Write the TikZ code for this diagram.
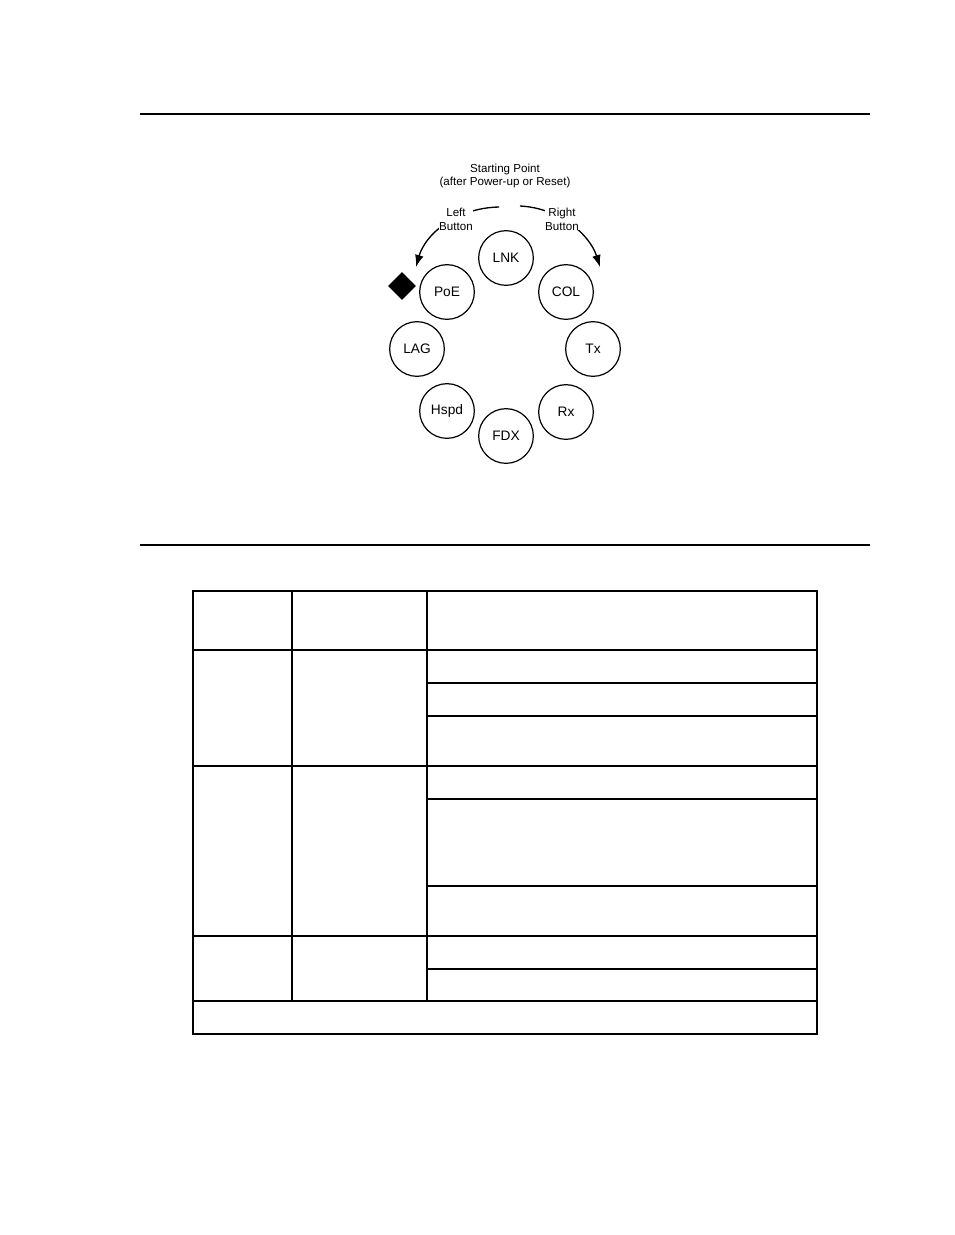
\documentclass[tikz,border=0pt]{standalone}
\usepackage{fontspec}
\setmainfont{Liberation Sans}
\usetikzlibrary{shapes.geometric,arrows.meta}
\begin{document}
\begin{tikzpicture}[x=0.75pt,y=-0.75pt,
  led/.style={circle,draw,line width=0.9pt,minimum size=41pt,inner sep=0pt,font=\fontsize{10.3}{12}\selectfont},
  lbl/.style={font=\fontsize{8.7}{10.3}\selectfont,align=center,inner sep=1pt},
  rule/.style={line width=1.3pt},
  grid/.style={line width=0.9pt},
  turn/.style={line width=1pt,-{Latex[length=9pt,width=6.5pt]}}]
\useasboundingbox (0,0) rectangle (954,1235);
% rules
\draw[rule] (140,114) -- (870,114);
\draw[rule] (140,545) -- (870,545);
% labels
\node[lbl] (start) at (505,176) {Starting Point\\(after Power-up or Reset)};
% arrows
\coordinate (ls) at (499,207);
\coordinate (lt) at (416,267);
\coordinate (rs) at (520,206);
\coordinate (rt) at (600,267);
\draw[turn] (ls) .. controls (455,208) and (425,235) .. (lt);
\draw[turn] (rs) .. controls (560,208) and (590,235) .. (rt);
\node[lbl,fill=white,inner sep=0pt] (left) at (456,219) {Left\\Button};
\node[lbl,fill=white,inner sep=0pt] (right) at (562,219) {Right\\Button};
% LEDs
\node[led] (LNK) at (506,258) {LNK};
\node[led] (COL) at (566,292) {COL};
\node[led] (Tx) at (593,349) {Tx};
\node[led] (Rx) at (566,412) {Rx};
\node[led] (FDX) at (506,436) {FDX};
\node[led] (Hspd) at (447,411) {Hspd};
\node[led] (LAG) at (417,349) {LAG};
\node[led] (PoE) at (447,292) {PoE};
\node[diamond,fill=black,minimum width=21pt,minimum height=21pt,inner sep=0pt] (mark) at (402,286) {};
% table
\draw[grid] (193,591) rectangle (817,1034);
\draw[grid] (292,591) -- (292,1001);
\draw[grid] (427,591) -- (427,1001);
\foreach \y in {650,766,936,1001} \draw[grid] (193,\y) -- (817,\y);
\foreach \y in {683,716,799,886,969} \draw[grid] (427,\y) -- (817,\y);
\end{tikzpicture}
\end{document}
